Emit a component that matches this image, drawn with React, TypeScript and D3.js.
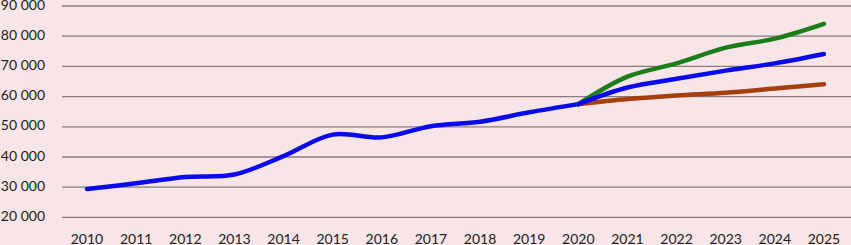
import React from 'react';
import * as d3 from 'd3';

const years = [2010, 2011, 2012, 2013, 2014, 2015, 2016, 2017, 2018, 2019, 2020, 2021, 2022, 2023, 2024, 2025];
const history = [29400, 31300, 33400, 34200, 40300, 47400, 46500, 50200, 51700, 54800, 57500];
const futureYears = [2020, 2021, 2022, 2023, 2024, 2025];
const highScenario = [57500, 66600, 71000, 76200, 79200, 84100];
const midScenario = [57500, 63000, 65900, 68600, 71000, 74100];
const lowScenario = [57500, 59200, 60400, 61300, 62700, 64100];
const yTicks = [20000, 30000, 40000, 50000, 60000, 70000, 80000, 90000];
const yTickLabels = ['20 000', '30 000', '40 000', '50 000', '60 000', '70 000', '80 000', '90 000'];

const W = 851;
const H = 245;

export default function App() {
  const x = d3.scalePoint<number>().domain(years).range([87, 824]);
  const y = d3.scaleLinear().domain([20000, 90000]).range([217.4, 6]);

  const line = d3.line<[number, number]>()
    .x(d => x(d[0]) as number)
    .y(d => y(d[1]))
    .curve(d3.curveCatmullRom.alpha(0.5));

  const pairs = (xs: number[], vs: number[]) => xs.map((yr, i) => [yr, vs[i]] as [number, number]);

  const series = [
    { name: 'history', d: line(pairs(years.slice(0, history.length), history)), color: '#0a0af0' },
    { name: 'low', d: line(pairs(futureYears, lowScenario)), color: '#a3400e' },
    { name: 'high', d: line(pairs(futureYears, highScenario)), color: '#1b7d1b' },
    { name: 'mid', d: line(pairs(futureYears, midScenario)), color: '#0a0af0' },
  ];

  return (
    <div style={{ position: 'fixed', left: 0, top: 0 }}>
      <svg width={W} height={H} style={{ display: 'block', fontFamily: 'Lato, sans-serif' }}>
        <rect width={W} height={H} fill="#f8e5e7" />
        {yTicks.map((t, i) => (
          <g key={t}>
            <line x1={62} x2={W} y1={y(t)} y2={y(t)} stroke="#8a7c7e" strokeWidth={1.3} />
            <text x={45} y={y(t)} textAnchor="end" dominantBaseline="middle" fontSize={14} fill="#222">
              {yTickLabels[i]}
            </text>
          </g>
        ))}
        {years.map(yr => (
          <text key={yr} x={x(yr)} y={244} textAnchor="middle" fontSize={14} fill="#222">
            {yr}
          </text>
        ))}
        {series.map(s => (
          <path key={s.name} d={s.d || ''} fill="none" stroke={s.color} strokeWidth={4.5} strokeLinecap="round" strokeLinejoin="round" />
        ))}
      </svg>
    </div>
  );
}
